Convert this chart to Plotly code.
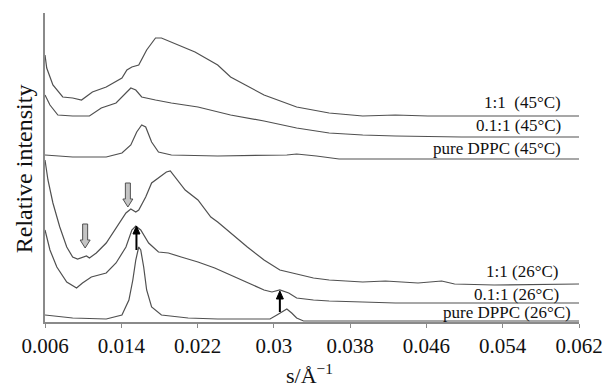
import plotly.graph_objects as go

# ---- data (s in 1/Å, relative intensity in arbitrary units incl. stacking offset) ----
s_11_45 = [0.0060, 0.00618, 0.00683, 0.00786, 0.00890, 0.00983, 0.01097, 0.01242, 0.01407, 0.01459,
           0.01511, 0.01583, 0.01666, 0.01759, 0.01821, 0.01925, 0.02070, 0.02173, 0.02411, 0.02546,
           0.02897, 0.03239, 0.03580, 0.03932, 0.04274, 0.04616, 0.04967, 0.05309, 0.0620]
i_11_45 = [267, 254, 237, 225, 224, 222, 230, 235, 244, 252,
           255, 257, 272, 284, 284, 280, 274, 270, 257, 245,
           227, 215, 209, 206, 207, 206, 206, 206, 206]

s_01_45 = [0.0060, 0.00652, 0.00735, 0.00890, 0.01066, 0.01190, 0.01345, 0.01428, 0.01500, 0.01552,
           0.01614, 0.01759, 0.01925, 0.02204, 0.02411, 0.02546, 0.02897, 0.03239, 0.03580, 0.03932,
           0.04274, 0.04967, 0.0620]
i_01_45 = [227, 217, 207, 206, 206, 214, 219, 227, 234, 232,
           225, 222, 219, 215, 210, 207, 201, 194, 189, 187,
           186, 185, 185]

s_p_45 = [0.0060, 0.00890, 0.01242, 0.01407, 0.01500, 0.01562, 0.01614, 0.01656, 0.01718, 0.01790,
          0.01925, 0.02411, 0.03136, 0.03239, 0.03446, 0.03684, 0.0620]
i_p_45 = [167, 165, 165, 169, 177, 190, 197, 195, 180, 170,
          167, 166, 167, 168, 166, 163, 163]

s_11_26 = [0.0060, 0.00631, 0.00683, 0.00755, 0.00828, 0.00890, 0.00942, 0.00993, 0.01035, 0.01066,
           0.01138, 0.01242, 0.01376, 0.01449, 0.01500, 0.01552, 0.01583, 0.01656, 0.01718, 0.01790,
           0.01873, 0.01914, 0.01966, 0.02070, 0.02204, 0.02339, 0.02411, 0.02546, 0.02722, 0.02897,
           0.03063, 0.03239, 0.03415, 0.03580, 0.03932, 0.04170, 0.04512, 0.04760, 0.04895, 0.05309,
           0.0620]
i_11_26 = [162, 142, 119, 95, 75, 65, 63, 65, 66, 64,
           69, 79, 99, 109, 113, 110, 112, 125, 139, 144,
           150, 151, 145, 132, 122, 105, 100, 89, 75, 62,
           52, 48, 44, 42, 40, 41, 39, 41, 38, 37,
           38]

s_01_26 = [0.0060, 0.00652, 0.00724, 0.00828, 0.00931, 0.00993, 0.01086, 0.01242, 0.01345, 0.01449,
           0.01511, 0.01552, 0.01604, 0.01687, 0.01790, 0.01894, 0.02028, 0.02204, 0.02380, 0.02546,
           0.02722, 0.02897, 0.02980, 0.03063, 0.03156, 0.03239, 0.03415, 0.03580, 0.03932, 0.04274,
           0.0620]
i_01_26 = [92, 72, 55, 40, 34, 39, 45, 49, 59, 75,
           92, 96, 92, 79, 70, 69, 65, 60, 54, 47,
           39, 32, 30, 32, 29, 24, 22, 21, 20, 19,
           19]

s_p_26 = [0.0060, 0.00890, 0.01242, 0.01407, 0.01480, 0.01521, 0.01552, 0.01583, 0.01604, 0.01635,
          0.01666, 0.01718, 0.01821, 0.02101, 0.02411, 0.02960, 0.03032, 0.03104, 0.03136, 0.03187,
          0.03239, 0.03311, 0.04067, 0.0620]
i_p_26 = [7, 4, 3, 7, 22, 42, 62, 75, 72, 55,
          32, 15, 7, 4, 3, 3, 7, 11, 13, 9,
          4, 1, 1, 1]

series = [
    (s_11_45, i_11_45), (s_01_45, i_01_45), (s_p_45, i_p_45),
    (s_11_26, i_11_26), (s_01_26, i_01_26), (s_p_26, i_p_26),
]

labels = ["1:1\u00a0 (45°C)", "0.1:1 (45°C)", "pure DPPC (45°C)",
          "1:1 (26°C)", "0.1:1 (26°C)", "pure DPPC (26°C)"]
label_s = [0.06033, 0.06033, 0.06033, 0.06002, 0.06013, 0.06137]
label_i = [220, 197, 174, 51, 28, 10]

tick_vals = [0.006, 0.014, 0.022, 0.030, 0.038, 0.046, 0.054, 0.062]
tick_text = ["0.006", "0.014", "0.022", "0.03", "0.038", "0.046", "0.054", "0.062"]

# arrows: grey hollow (down) tips and black (up) arrows  (s, intensity)
grey_arrow_tips = [(0.01021, 74), (0.01469, 115)]
black_arrows = [((0.01559, 96), (0.01559, 72)), ((0.03063, 31), (0.03063, 10))]

FONT = "Liberation Serif"
LINE_COL = "#505050"
AXIS_COL = "#8a8a8a"

fig = go.Figure()
for sx, iy in series:
    fig.add_trace(go.Scatter(x=sx, y=iy, mode="lines",
                             line=dict(color=LINE_COL, width=1.2),
                             showlegend=False, hoverinfo="skip"))

annotations = []
for txt, xs, yi in zip(labels, label_s, label_i):
    annotations.append(dict(x=xs, y=yi, xref="x", yref="y", text=txt, showarrow=False,
                            xanchor="right", yanchor="middle",
                            font=dict(family=FONT, size=17, color="#111")))

# axis titles
annotations.append(dict(x=-0.039, y=0.495, xref="paper", yref="paper",
                        text="Relative intensity", textangle=-90, showarrow=False,
                        xanchor="center", yanchor="middle",
                        font=dict(family=FONT, size=24, color="#111")))
annotations.append(dict(x=0.496, y=-0.219, xref="paper", yref="paper",
                        text="s/Å<sup>−1</sup>", showarrow=False,
                        xanchor="center", yanchor="bottom",
                        font=dict(family=FONT, size=22, color="#111")))

shapes = []
grey_path = "M0,0 L-5,8 L-2.5,8 L-2.5,24 L2.5,24 L2.5,8 L5,8 Z"
for sx, iy in grey_arrow_tips:
    shapes.append(dict(type="path", xref="x", yref="y",
                       xsizemode="pixel", ysizemode="pixel",
                       xanchor=sx, yanchor=iy, path=grey_path,
                       fillcolor="#c4c4c4", line=dict(color="#505050", width=1)))

head_path = "M0,0 L-3.5,-8 L3.5,-8 Z"
for tip, tail in black_arrows:
    shapes.append(dict(type="line", xref="x", yref="y",
                       x0=tail[0], x1=tip[0], y0=tail[1], y1=tip[1] - 5,
                       line=dict(color="#000", width=2)))
    shapes.append(dict(type="path", xref="x", yref="y",
                       xsizemode="pixel", ysizemode="pixel",
                       xanchor=tip[0], yanchor=tip[1], path=head_path,
                       fillcolor="#000", line=dict(color="#000", width=1)))

fig.update_layout(
    width=615, height=389,
    margin=dict(l=45, r=29, t=13, b=67),
    paper_bgcolor="white", plot_bgcolor="white",
    annotations=annotations, shapes=shapes,
    xaxis=dict(range=[0.006, 0.062], tickvals=tick_vals, ticktext=tick_text,
               showline=True, linecolor=AXIS_COL, linewidth=1.5,
               ticks="outside", ticklen=4, tickcolor=AXIS_COL, tickwidth=1.2,
               showgrid=False, zeroline=False,
               tickfont=dict(family=FONT, size=21, color="#111")),
    yaxis=dict(range=[0, 309], showline=True, linecolor=AXIS_COL, linewidth=1.5,
               showticklabels=False, ticks="", showgrid=False, zeroline=False),
)

fig.write_html("out.html", config={"displayModeBar": False},
               post_script="document.body.style.margin='0';document.body.style.overflow='hidden';")
